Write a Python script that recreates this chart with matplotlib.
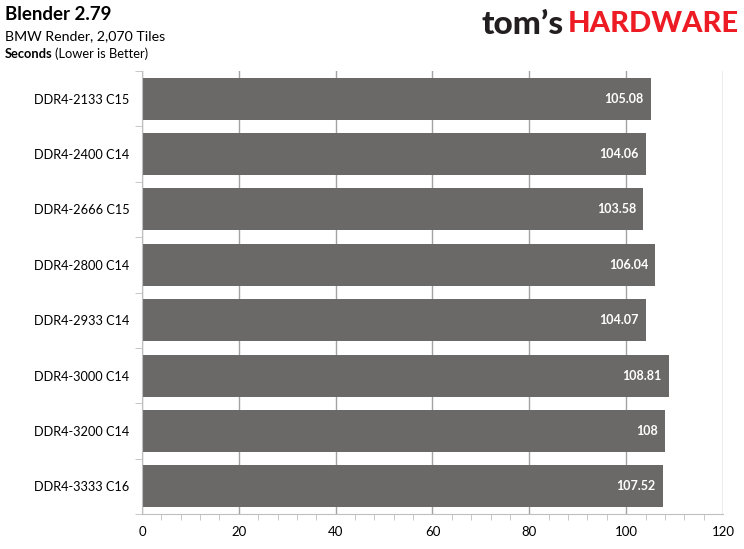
import matplotlib
matplotlib.use("Agg")
import matplotlib.pyplot as plt
from matplotlib.ticker import MultipleLocator

plt.rcParams['font.family'] = ['Lato', 'DejaVu Sans']

# data
configs = ['DDR4-2133 C15', 'DDR4-2400 C14', 'DDR4-2666 C15', 'DDR4-2800 C14',
           'DDR4-2933 C14', 'DDR4-3000 C14', 'DDR4-3200 C14', 'DDR4-3333 C16']
seconds = [105.08, 104.06, 103.58, 106.04, 104.07, 108.81, 108, 107.52]
labels = ['105.08', '104.06', '103.58', '106.04', '104.07', '108.81', '108', '107.52']

fig = plt.figure(figsize=(7.44, 5.49), dpi=100)
ax = fig.add_axes([142 / 744, 1 - 514 / 549, (723 - 142) / 744, (514 - 71) / 549])

ypos = list(range(len(configs)))
bars = ax.barh(ypos, seconds, height=0.76, color='#6b6967', zorder=2)

# value labels inside the bar end
for b, txt in zip(bars, labels):
    ax.text(b.get_width() - 1.5, b.get_y() + b.get_height() / 2, txt,
            ha='right', va='center', color='white', fontsize=9, fontweight='bold', zorder=4)

ax.set_xlim(0, 120)
ax.set_ylim(len(configs) - 0.5, -0.5)
ax.xaxis.set_major_locator(MultipleLocator(20))
ax.xaxis.set_minor_locator(MultipleLocator(4))
ax.grid(axis='x', which='major', color='#333333', alpha=0.45, linewidth=1, zorder=3)

ax.set_yticks(ypos)
ax.set_yticklabels(configs, fontsize=9.2)
ax.set_yticks([i + 0.5 for i in range(-1, len(configs))], minor=True)
ax.tick_params(axis='y', which='major', length=0, pad=9)
ax.tick_params(axis='y', which='minor', length=5, color='#bfbfbf')
ax.tick_params(axis='x', which='both', color='#bfbfbf', labelsize=9.5, pad=9)
ax.tick_params(axis='x', which='major', length=0)
ax.tick_params(axis='x', which='minor', length=4, direction='out')

for s in ['top', 'right']:
    ax.spines[s].set_visible(False)
for s in ['left', 'bottom']:
    ax.spines[s].set_color('#bfbfbf')

# titles
fig.text(5 / 744, 1 - 14 / 549, 'Blender 2.79', fontsize=13.5, fontweight='bold', va='center')
fig.text(5 / 744, 1 - 36 / 549, 'BMW Render, 2,070 Tiles', fontsize=10.2, va='center')
sec = fig.text(5 / 744, 1 - 54 / 549, 'Seconds', fontsize=9.3, fontweight='bold', va='center')
ax.annotate('(Lower is Better)', xy=(1, 0.5), xycoords=sec, xytext=(2, 0),
            textcoords='offset points', fontsize=9.3, va='center', ha='left',
            annotation_clip=False)

# logo
fig.text(481 / 744, 1 - 24 / 549, "tom\u2019s", fontsize=24, fontweight='black', color='#231f20', va='center')
fig.text(568 / 744, 1 - 24 / 549, 'HARDWARE', fontsize=21, fontweight='black', color='#ed1c24', va='center')

fig.savefig('out.png', dpi=100)
